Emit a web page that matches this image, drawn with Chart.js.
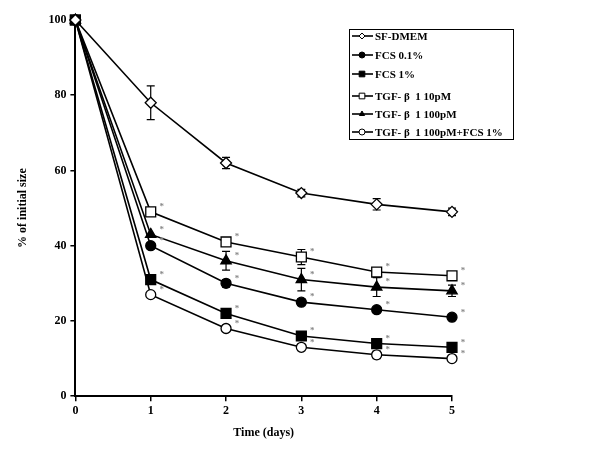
<!DOCTYPE html>
<html>
<head>
<meta charset="utf-8">
<script src="https://cdn.jsdelivr.net/npm/chart.js@4"></script>
<style>
  html, body { margin: 0; padding: 0; background: #fff; }
  #wrap { width: 600px; height: 450px; }
</style>
</head>
<body>
<div id="wrap"><canvas id="chartWound"></canvas></div>
<script>
var days = [0, 1, 2, 3, 4, 5];
var yTicks = [0, 20, 40, 60, 80, 100];

var seriesNames = ['SF-DMEM', 'FCS 0.1%', 'FCS 1%', 'TGF- β  1 10pM', 'TGF- β  1 100pM', 'TGF- β  1 100pM+FCS 1%'];

var sfDmem    = [100, 78, 62, 54, 51, 49];
var fcs01     = [100, 40, 30, 25, 23, 21];
var fcs1      = [100, 31, 22, 16, 14, 13];
var tgf10     = [100, 49, 41, 37, 33, 32];
var tgf100    = [100, 43, 36, 31, 29, 28];
var tgf100fcs = [100, 27, 18, 13, 11, 10];

// error bars (+/-)
var sfDmemErr    = [0, 4.5, 1.5, 1, 1.5, 1];
var fcs01Err     = [0, 0.8, 1, 0.8, 0.5, 0.5];
var fcs1Err      = [0, 0, 0.5, 0.5, 0.5, 0.5];
var tgf10Err     = [0, 0, 0.5, 2, 1, 0.5];
var tgf100Err    = [0, 0, 2.5, 3, 2.5, 1.5];
var tgf100fcsErr = [0, 0, 0.8, 0.5, 1, 0.5];

// which points carry a significance asterisk
var starDays = [1, 2, 3, 4, 5];

function toXY(values) {
    return values.map(function (v, i) { return { x: days[i], y: v }; });
}

function serie(label, values, errs, style, fill, radius, stars) {
    return {
        label: label,
        data: toXY(values),
        errs: errs,
        stars: stars,
        clip: false,
        borderColor: '#000',
        borderWidth: 1.6,
        pointStyle: style,
        pointRadius: radius,
        pointBackgroundColor: fill,
        pointBorderColor: '#000',
        pointBorderWidth: 1.3,
        tension: 0
    };
}

//barras de error
var errorBarsPlugin = {
    id: 'errorBars',
    beforeDatasetsDraw: function (chart) {
        var ctx = chart.ctx, ys = chart.scales.y, xs = chart.scales.x;
        ctx.save();
        ctx.strokeStyle = '#000';
        ctx.lineWidth = 1.2;
        chart.data.datasets.forEach(function (ds) {
            ds.data.forEach(function (p, i) {
                var e = ds.errs[i];
                if (!e) return;
                var x = xs.getPixelForValue(p.x);
                var top = ys.getPixelForValue(p.y + e);
                var bot = ys.getPixelForValue(p.y - e);
                ctx.beginPath();
                ctx.moveTo(x, top); ctx.lineTo(x, bot);
                ctx.moveTo(x - 4, top); ctx.lineTo(x + 4, top);
                ctx.moveTo(x - 4, bot); ctx.lineTo(x + 4, bot);
                ctx.stroke();
            });
        });
        ctx.restore();
    }
};

//asteriscos
var starsPlugin = {
    id: 'stars',
    afterDatasetsDraw: function (chart) {
        var ctx = chart.ctx, ys = chart.scales.y, xs = chart.scales.x;
        ctx.save();
        ctx.fillStyle = '#888';
        ctx.font = 'bold 9px "Liberation Serif"';
        ctx.textAlign = 'center';
        ctx.textBaseline = 'middle';
        chart.data.datasets.forEach(function (ds) {
            if (!ds.stars) return;
            ds.data.forEach(function (p) {
                if (starDays.indexOf(p.x) < 0) return;
                ctx.fillText('*', xs.getPixelForValue(p.x) + 11, ys.getPixelForValue(p.y) - 5);
            });
        });
        ctx.restore();
    }
};

//leyenda con linea + marcador
var boxLegendPlugin = {
    id: 'boxLegend',
    afterDraw: function (chart) {
        var ctx = chart.ctx;
        var rowsY = [36, 55, 74, 96, 114, 132];
        ctx.save();
        ctx.strokeStyle = '#000';
        ctx.lineWidth = 1;
        ctx.strokeRect(349.5, 29.5, 164, 110);
        ctx.font = 'bold 11px "Liberation Serif"';
        ctx.textBaseline = 'middle';
        ctx.textAlign = 'left';
        chart.data.datasets.forEach(function (ds, i) {
            var y = rowsY[i];
            ctx.strokeStyle = '#000';
            ctx.lineWidth = 1.6;
            ctx.beginPath();
            ctx.moveTo(352, y); ctx.lineTo(373, y);
            ctx.stroke();
            ctx.fillStyle = ds.pointBackgroundColor;
            ctx.lineWidth = 1;
            var r = ds.pointStyle === 'rect' ? 4 : 3;
            Chart.helpers.drawPoint(ctx, { pointStyle: ds.pointStyle, radius: r, rotation: 0, borderWidth: 1 }, 362, y);
            ctx.fillStyle = '#000';
            ctx.fillText(ds.label, 375, y + 1);
        });
        ctx.restore();
    }
};

var tickFont = { family: 'Liberation Serif', weight: 'bold', size: 12 };

var ctx = document.getElementById('chartWound').getContext('2d');
new Chart(ctx, {
    type: 'line',
    data: {
        datasets: [
            serie(seriesNames[0], sfDmem, sfDmemErr, 'rectRot', '#fff', 5.5, false),
            serie(seriesNames[1], fcs01, fcs01Err, 'circle', '#000', 5, true),
            serie(seriesNames[2], fcs1, fcs1Err, 'rect', '#000', 7, true),
            serie(seriesNames[3], tgf10, tgf10Err, 'rect', '#fff', 7, true),
            serie(seriesNames[4], tgf100, tgf100Err, 'triangle', '#000', 6, true),
            serie(seriesNames[5], tgf100fcs, tgf100fcsErr, 'circle', '#fff', 5, true)
        ]
    },
    options: {
        responsive: true,
        maintainAspectRatio: false,
        animation: false,
        layout: { padding: { top: 20, right: 148, bottom: 2, left: 12 } },
        plugins: { legend: { display: false }, tooltip: { enabled: false } },
        scales: {
            x: {
                type: 'linear',
                min: 0, max: 5,
                ticks: { stepSize: 1, color: '#000', font: tickFont, padding: 3 },
                grid: { drawOnChartArea: false, drawTicks: true, tickLength: 5, color: '#000', lineWidth: 1.5 },
                border: { display: true, color: '#000', width: 2 },
                title: { display: true, text: 'Time (days)', color: '#000', font: tickFont, padding: { top: 4, bottom: 8 } }
            },
            y: {
                min: 0, max: 100,
                afterBuildTicks: function (axis) { axis.ticks = yTicks.map(function (v) { return { value: v }; }); },
                ticks: { color: '#000', font: tickFont, padding: 4 },
                grid: { drawOnChartArea: false, drawTicks: true, tickLength: 5, color: '#000', lineWidth: 1.5 },
                border: { display: true, color: '#000', width: 2 },
                title: { display: true, text: '% of initial size', color: '#000', font: tickFont, padding: { top: 4, bottom: 14 } }
            }
        }
    },
    plugins: [errorBarsPlugin, starsPlugin, boxLegendPlugin]
});
</script>
</body>
</html>
